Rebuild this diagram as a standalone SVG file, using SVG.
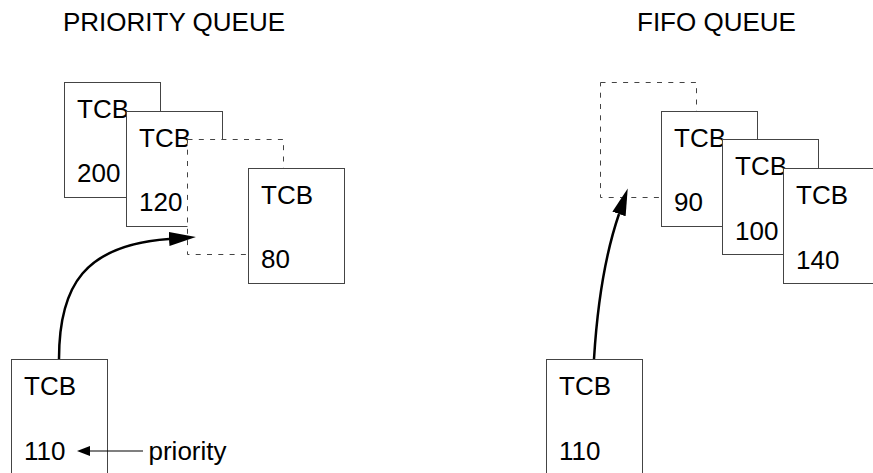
<svg xmlns="http://www.w3.org/2000/svg" width="873" height="473" viewBox="0 0 873 473">
<style>
text { font-family: "Liberation Sans", Arial, Helvetica, sans-serif; font-size: 26px; fill: #000; }
.box { fill: #fff; stroke: #444; stroke-width: 1; }
.slot { fill: #fff; stroke: #444; stroke-width: 1; stroke-dasharray: 5 6.3; }
.curve { fill: none; stroke: #000; stroke-width: 2.5; }
.thin { fill: none; stroke: #000; stroke-width: 1.2; }
</style>
<defs>
<marker id="bigHead" viewBox="0 0 27 14" refX="0" refY="7" markerWidth="27" markerHeight="14" markerUnits="userSpaceOnUse" orient="auto">
<path d="M0,0 L27,7 L0,14 z" fill="#000"/>
</marker>
<marker id="smallHead" viewBox="0 0 13 10" refX="0" refY="5" markerWidth="13" markerHeight="10" markerUnits="userSpaceOnUse" orient="auto">
<path d="M0,0 L13,5 L0,10 z" fill="#000"/>
</marker>
</defs>
<rect width="873" height="473" fill="#fff"/>

<g id="titles">
<text x="63" y="31">PRIORITY QUEUE</text>
<text x="637" y="31">FIFO QUEUE</text>
</g>

<!-- Priority queue -->
<g id="p-tcb200">
<rect class="box" x="64.5" y="82.5" width="96" height="115"/>
<text x="77" y="118">TCB</text>
<text x="77" y="182">200</text>
</g>
<g id="p-tcb120">
<rect class="box" x="126.5" y="111.5" width="96" height="115"/>
<text x="139" y="147">TCB</text>
<text x="139" y="211">120</text>
</g>
<g id="p-slot">
<rect class="slot" x="187.5" y="139.5" width="96" height="115"/>
</g>
<g id="p-tcb80">
<rect class="box" x="248.5" y="168.5" width="96" height="115"/>
<text x="261" y="204">TCB</text>
<text x="261" y="268">80</text>
</g>
<g id="p-tcb110">
<rect class="box" x="11.5" y="359.5" width="96" height="115"/>
<text x="24" y="395">TCB</text>
<text x="24" y="460">110</text>
</g>
<g id="p-label">
<text x="148.5" y="460">priority</text>
</g>

<!-- FIFO queue -->
<g id="f-slot">
<rect class="slot" x="600.5" y="82.5" width="96" height="115"/>
</g>
<g id="f-tcb90">
<rect class="box" x="661.5" y="111.5" width="96" height="115"/>
<text x="674" y="147">TCB</text>
<text x="674" y="211">90</text>
</g>
<g id="f-tcb100">
<rect class="box" x="722.5" y="139.5" width="96" height="115"/>
<text x="735" y="175">TCB</text>
<text x="735" y="240">100</text>
</g>
<g id="f-tcb140">
<rect class="box" x="783.5" y="168.5" width="96" height="115"/>
<text x="796" y="204">TCB</text>
<text x="796" y="269">140</text>
</g>
<g id="f-tcb110">
<rect class="box" x="546.5" y="359.5" width="96" height="115"/>
<text x="559" y="395">TCB</text>
<text x="559" y="460">110</text>
</g>

<g id="connectors">
<path class="curve" d="M59,359 C59,285 85,245 169,239" marker-end="url(#bigHead)"/>
<path class="curve" d="M594,359 C597,310 605,255 619,214" marker-end="url(#bigHead)"/>
<path class="thin" d="M143,451 L90,451" marker-end="url(#smallHead)"/>
</g>
</svg>
